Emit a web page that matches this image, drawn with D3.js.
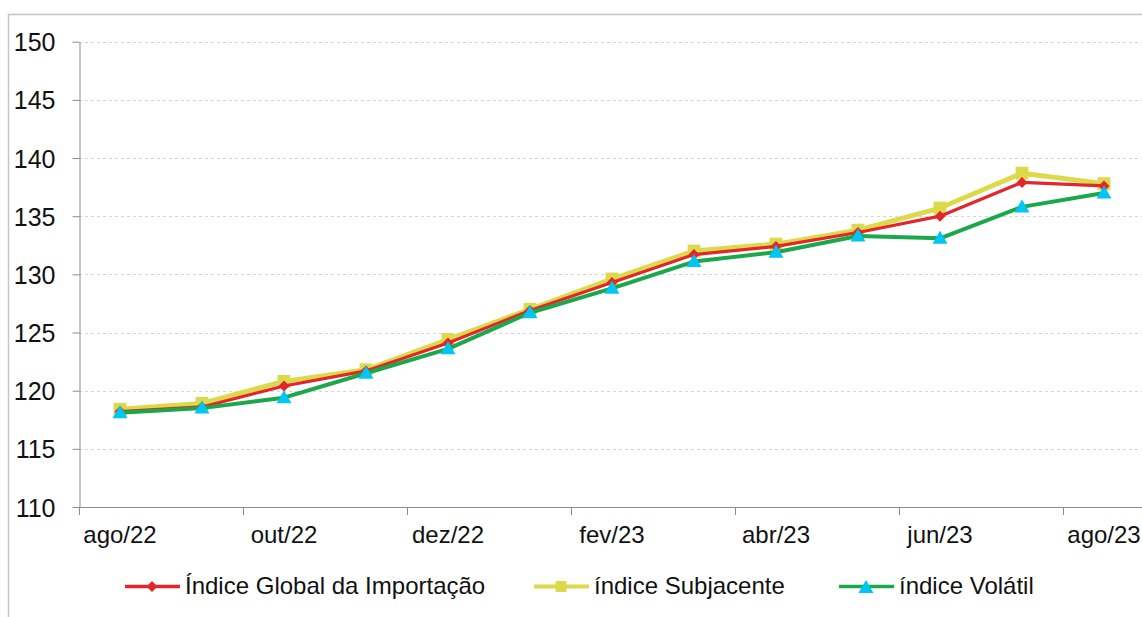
<!DOCTYPE html>
<html>
<head>
<meta charset="utf-8">
<script src="https://cdn.jsdelivr.net/npm/d3@7"></script>
<style>
    body { margin: 0; background: #fff; }
    svg { display: block; font-family: "Liberation Sans", Arial, sans-serif; }
</style>
</head>
<body>
<div id="chart"></div>
<script>
const months = ['ago/22', 'set/22', 'out/22', 'nov/22', 'dez/22', 'jan/23', 'fev/23',
    'mar/23', 'abr/23', 'mai/23', 'jun/23', 'jul/23', 'ago/23'];
const globalIdx = [118.2, 118.6, 120.4, 121.7, 124.1, 126.9, 129.3, 131.7, 132.4, 133.6, 135.0, 137.9, 137.6];
const subjacente = [118.4, 118.9, 120.8, 121.8, 124.4, 127.0, 129.6, 132.0, 132.6, 133.8, 135.7, 138.7, 137.8];
const volatil = [118.1, 118.5, 119.4, 121.5, 123.6, 126.7, 128.8, 131.1, 131.9, 133.3, 133.1, 135.8, 137.0];
const yTicks = [110, 115, 120, 125, 130, 135, 140, 145, 150];
const labelMonths = months.filter((d, i) => i % 2 === 0);

const width = 1142;
const height = 617;

const series = [
    { name: 'índice Subjacente', values: subjacente, color: '#dcd94a', lw: 5, marker: 'square', mcolor: '#dcd94a' },
    { name: 'Índice Global da Importação', values: globalIdx, color: '#e2262c', lw: 3.2, marker: 'diamond', mcolor: '#e2262c' },
    { name: 'índice Volátil', values: volatil, color: '#1aa84b', lw: 4, marker: 'triangle', mcolor: '#00c6f5' }
];
const legendOrder = [1, 0, 2];
const legendX = [125, 534, 839];

const svg = d3.select('#chart').append('svg')
    .attr('width', width)
    .attr('height', height);

// chart frame (right/bottom edges fall outside the picture)
svg.append('path')
    .attr('d', `M8.5,${height + 5}V14.5H${width + 5}`)
    .attr('fill', 'none')
    .attr('stroke', '#c4c4c4')
    .attr('stroke-width', 1.5);

const x = d3.scaleBand()
    .domain(months)
    .range([79, 79 + months.length * 82]);

const y = d3.scaleLinear()
    .domain([110, 150])
    .range([507, 41.7]);

// gridlines
svg.append('g')
    .selectAll('line')
    .data(yTicks.filter(d => d > 110))
    .join('line')
    .attr('x1', 79)
    .attr('x2', x.range()[1])
    .attr('y1', d => Math.round(y(d)) + 0.5)
    .attr('y2', d => Math.round(y(d)) + 0.5)
    .attr('stroke', '#d4d4d4')
    .attr('stroke-dasharray', '3,3');

// y axis
const yAxis = svg.append('g')
    .attr('transform', 'translate(79.5,0)')
    .call(d3.axisLeft(y).tickValues(yTicks).tickSize(7).tickPadding(0).tickSizeOuter(0));
yAxis.select('.domain').attr('stroke', '#8c8c8c');
yAxis.selectAll('.tick line').attr('stroke', '#8c8c8c');
yAxis.selectAll('.tick text')
    .attr('x', -24)
    .attr('dy', '0.36em')
    .attr('font-size', 25)
    .attr('font-family', '"Liberation Sans", Arial, sans-serif')
    .attr('fill', '#111');

// x axis
const xAxis = svg.append('g');
xAxis.append('line')
    .attr('x1', 79)
    .attr('x2', x.range()[1])
    .attr('y1', 507.5)
    .attr('y2', 507.5)
    .attr('stroke', '#8c8c8c');
xAxis.selectAll('.tick')
    .data(labelMonths)
    .join('line')
    .attr('class', 'tick')
    .attr('x1', d => Math.round(x(d)) + 0.5)
    .attr('x2', d => Math.round(x(d)) + 0.5)
    .attr('y1', 507)
    .attr('y2', 515)
    .attr('stroke', '#8c8c8c');
xAxis.selectAll('text')
    .data(labelMonths)
    .join('text')
    .attr('x', d => x(d) + x.bandwidth() / 2)
    .attr('y', 543)
    .attr('text-anchor', 'middle')
    .attr('font-size', 24)
    .attr('fill', '#111')
    .text(d => d);

function markerPath (type) {
    if (type === 'square') return d3.symbol(d3.symbolSquare, 165)();
    if (type === 'diamond') return 'M0,-5.5L5.5,0L0,5.5L-5.5,0Z';
    return 'M0,-7.5L7.5,5.5L-7.5,5.5Z';
}

const line = d3.line()
    .x((d, i) => x(months[i]) + x.bandwidth() / 2)
    .y(d => y(d));

series.forEach(s => {
    const g = svg.append('g');
    g.append('path')
        .datum(s.values)
        .attr('d', line)
        .attr('fill', 'none')
        .attr('stroke', s.color)
        .attr('stroke-width', s.lw)
        .attr('stroke-linejoin', 'round');
    g.selectAll('path.mk')
        .data(s.values)
        .join('path')
        .attr('class', 'mk')
        .attr('d', markerPath(s.marker))
        .attr('fill', s.mcolor)
        .attr('transform', (d, i) => `translate(${x(months[i]) + x.bandwidth() / 2},${y(d)})`);
});

// legend
const legend = svg.append('g');
legendOrder.forEach((si, k) => {
    const s = series[si];
    const lg = legend.append('g').attr('transform', `translate(${legendX[k]},586.5)`);
    lg.append('line')
        .attr('x1', 0)
        .attr('x2', 55)
        .attr('stroke', s.color)
        .attr('stroke-width', s.lw > 4 ? 4 : 3.5);
    lg.append('path')
        .attr('d', markerPath(s.marker))
        .attr('fill', s.mcolor)
        .attr('transform', `translate(27,${s.marker === 'triangle' ? 1 : 0})${s.marker === 'square' ? ' scale(0.85)' : ''}`);
    lg.append('text')
        .attr('x', 60)
        .attr('y', 7)
        .attr('font-size', 24)
        .attr('fill', '#111')
        .text(s.name);
});
</script>
</body>
</html>
